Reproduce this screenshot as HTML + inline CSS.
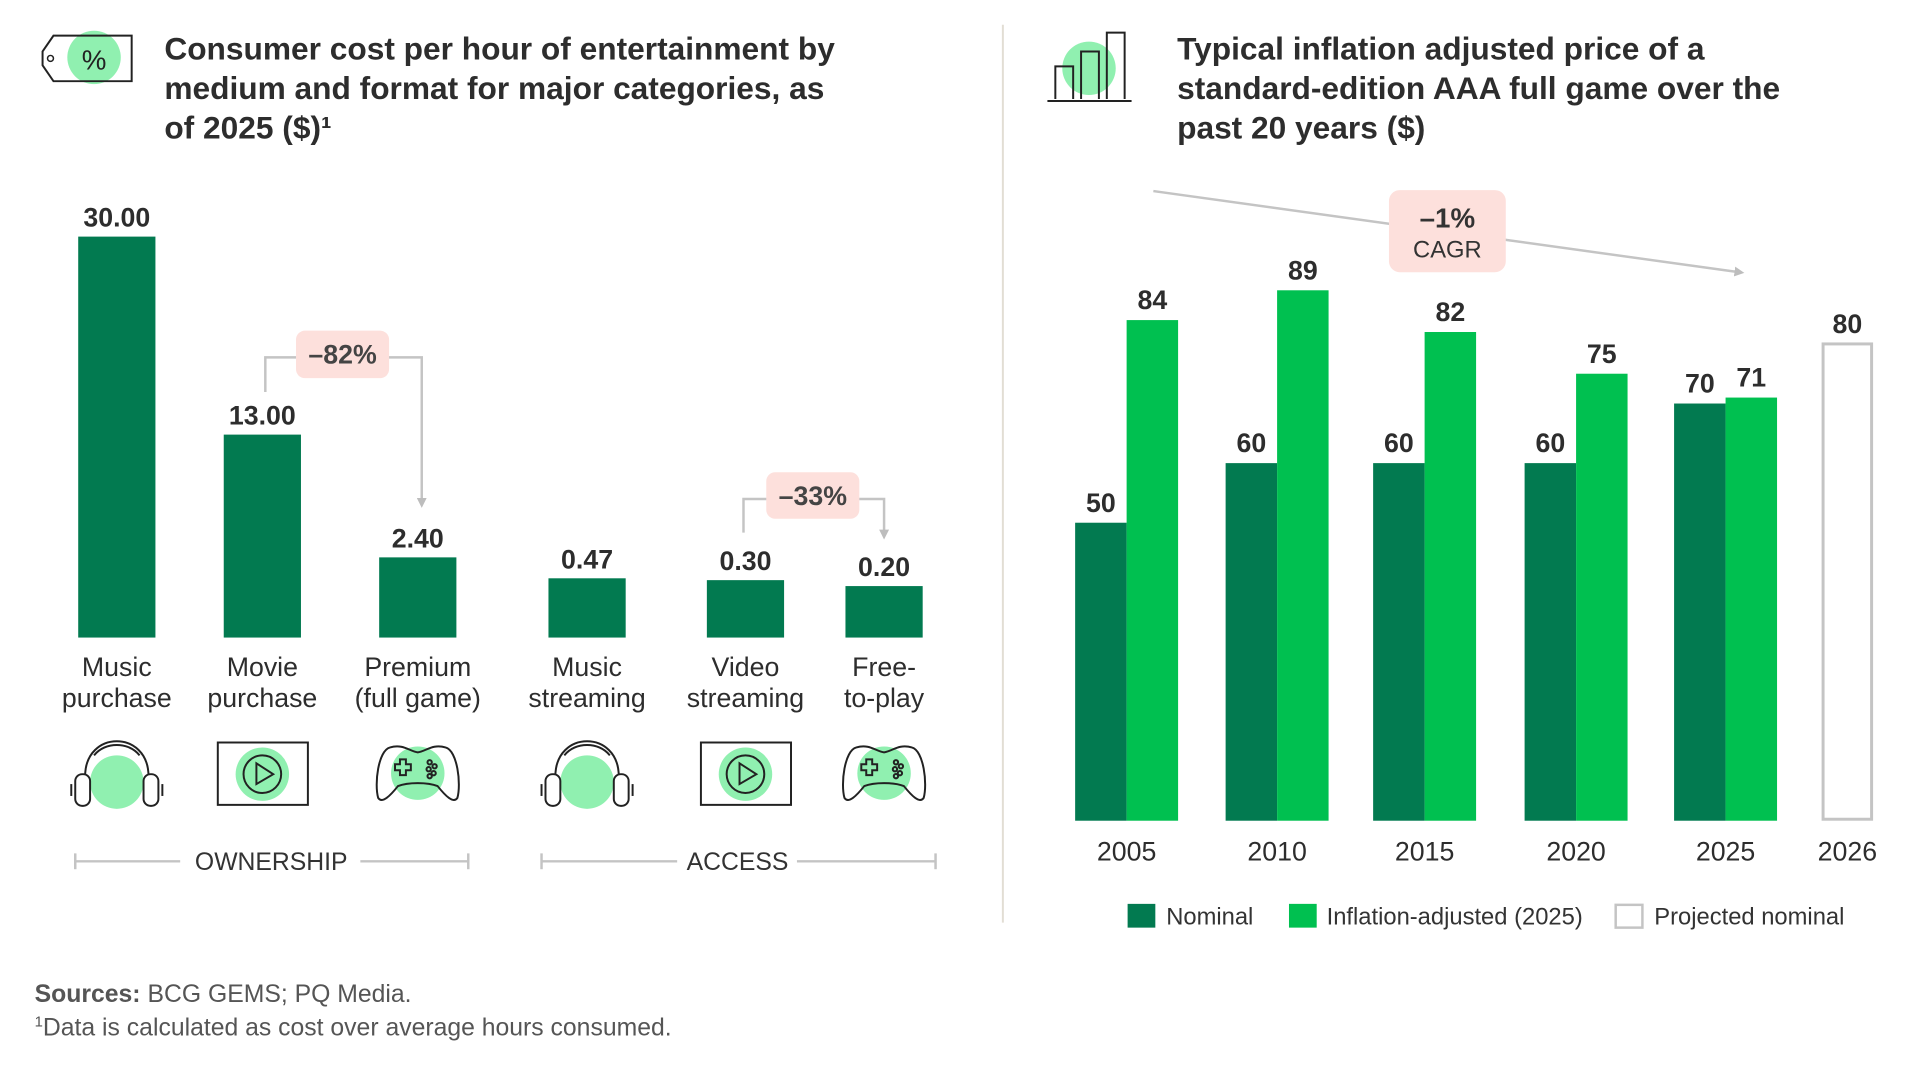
<!DOCTYPE html>
<html><head><meta charset="utf-8">
<style>
html,body{margin:0;padding:0;background:#fff;}
svg{display:block;font-family:"Liberation Sans",sans-serif;}
</style></head>
<body>
<svg id="chart" width="1930" height="1068" viewBox="0 0 1930 1068" xmlns="http://www.w3.org/2000/svg">
<defs>
<marker id="arrowG" markerWidth="10" markerHeight="10" refX="5" refY="5" orient="auto" markerUnits="userSpaceOnUse">
<path d="M0,0 L10,5 L0,10 z" fill="#bdbdbd"/></marker>
</defs>
<g transform="scale(0.99)">
<g>
<circle cx="95" cy="58" r="27" fill="#90f0b0"/>
<path d="M54,36 L133,36 L133,82 L54,82 L43,66 L43,52 Z" fill="none" stroke="#222" stroke-width="2"/>
<circle cx="51" cy="59" r="3" fill="none" stroke="#222" stroke-width="1.5"/>
<text x="95" y="70" font-size="28" text-anchor="middle" fill="#222">%</text>
</g>
<g font-size="32" font-weight="bold" fill="#2d2d2d">
<text x="166" y="60">Consumer cost per hour of entertainment by</text>
<text x="166" y="100">medium and format for major categories, as</text>
<text x="166" y="140">of 2025 ($)¹</text>
</g>
<g id="leftBars"></g>
<g>
<polyline points="268,396 268,361 426,361 426,508" fill="none" stroke="#c4c4c4" stroke-width="2.5" marker-end="url(#arrowG)"/>
<rect x="299" y="334" width="94" height="48" rx="9" fill="#fde0dc"/>
<text x="346" y="367" font-size="27" font-weight="bold" text-anchor="middle" fill="#444">–82%</text>
</g>
<g>
<polyline points="751,538 751,504 893,504 893,540" fill="none" stroke="#c4c4c4" stroke-width="2.5" marker-end="url(#arrowG)"/>
<rect x="774" y="477" width="94" height="47" rx="9" fill="#fde0dc"/>
<text x="821" y="510" font-size="27" font-weight="bold" text-anchor="middle" fill="#444">–33%</text>
</g>
<g id="icons"></g>
<g stroke="#c4c4c4" stroke-width="2.5">
<line x1="76" y1="870" x2="182" y2="870"/><line x1="364" y1="870" x2="473" y2="870"/>
<line x1="76" y1="862" x2="76" y2="878"/><line x1="473" y1="862" x2="473" y2="878"/>
</g>
<text x="274" y="879" font-size="25" text-anchor="middle" fill="#333">OWNERSHIP</text>
<g stroke="#c4c4c4" stroke-width="2.5">
<line x1="547" y1="870" x2="684" y2="870"/><line x1="805" y1="870" x2="945" y2="870"/>
<line x1="547" y1="862" x2="547" y2="878"/><line x1="945" y1="862" x2="945" y2="878"/>
</g>
<text x="745" y="879" font-size="25" text-anchor="middle" fill="#333">ACCESS</text>
<line x1="1013" y1="25" x2="1013" y2="932" stroke="#e2ded4" stroke-width="2"/>
<g fill="none" stroke="#222" stroke-width="2">
<ellipse cx="1100" cy="69" rx="27" ry="27" fill="#90f0b0" stroke="none"/>
<path d="M1066,100 L1066,67 L1084,67 L1084,100"/>
<path d="M1092,100 L1092,52 L1110,52 L1110,100"/>
<path d="M1118,100 L1118,33 L1136,33 L1136,100"/>
<line x1="1058" y1="102" x2="1143" y2="102"/>
</g>
<g font-size="32" font-weight="bold" fill="#2d2d2d">
<text x="1189" y="60">Typical inflation adjusted price of a</text>
<text x="1189" y="100">standard-edition AAA full game over the</text>
<text x="1189" y="140">past 20 years ($)</text>
</g>
<g>
<line x1="1165" y1="193" x2="1757" y2="275" stroke="#c4c4c4" stroke-width="2.5" marker-end="url(#arrowG)"/>
<rect x="1403" y="192" width="118" height="83" rx="11" fill="#fde0dc"/>
<text x="1462" y="230" font-size="28" font-weight="bold" text-anchor="middle" fill="#333">–1%</text>
<text x="1462" y="260" font-size="24" text-anchor="middle" fill="#333">CAGR</text>
</g>
<g id="rightBars"></g>
<g font-size="24" fill="#333">
<g><rect x="1139" y="913" width="28" height="24" fill="#027a50"/><text x="1178" y="934">Nominal</text></g>
<g><rect x="1302" y="913" width="28" height="24" fill="#00c050"/><text x="1340" y="934">Inflation-adjusted (2025)</text></g>
<g><rect x="1632" y="914" width="27" height="23" fill="#fff" stroke="#c4c4c4" stroke-width="2.5"/><text x="1671" y="934">Projected nominal</text></g>
</g>
<text x="35" y="1012" font-size="25" fill="#555"><tspan font-weight="bold">Sources:</tspan> BCG GEMS; PQ Media.</text>
<text x="35" y="1046" font-size="25" fill="#555"><tspan font-size="15" dy="-9">1</tspan><tspan dy="9">Data is calculated as cost over average hours consumed.</tspan></text>
</g>
</svg>
<script>
const leftCategories = [["Music","purchase"],["Movie","purchase"],["Premium","(full game)"],["Music","streaming"],["Video","streaming"],["Free-","to-play"]];
const leftValues = [30.00, 13.00, 2.40, 0.47, 0.30, 0.20];
const leftLabels = ["30.00","13.00","2.40","0.47","0.30","0.20"];
const leftIcons = ["headphones","screen","controller","headphones","screen","controller"];
const years = ["2005","2010","2015","2020","2025","2026"];
const nominal = [50, 60, 60, 60, 70, null];
const adjusted = [84, 89, 82, 75, 71, null];
const projected = [null, null, null, null, null, 80];

const NS = "http://www.w3.org/2000/svg";
function mk(tag, attrs, parent){const e=document.createElementNS(NS,tag);for(const k in attrs)e.setAttribute(k,attrs[k]);parent.appendChild(e);return e;}

const lBase = 644, lBarW = 78;
const lCenters = [118, 265, 422, 593, 753, 893];
const kDom = [0, 0.2, 0.3, 2.4, 13, 30];
const kRng = [0, 52, 58, 81, 205, 405];
function yLeft(v){
  for(let i=1;i<kDom.length;i++){ if(v<=kDom[i]){const t=(v-kDom[i-1])/(kDom[i]-kDom[i-1]);return lBase-(kRng[i-1]+t*(kRng[i]-kRng[i-1]));} }
  return lBase-kRng[kRng.length-1];
}
const lg = document.getElementById('leftBars');
leftValues.forEach((v,i)=>{
  const cx=lCenters[i], y=yLeft(v);
  const r=mk('rect',{x:cx-lBarW/2,y:y,width:lBarW,height:lBase-y,fill:'#027a50'},lg);
  
  
  const t=mk('text',{x:cx,y:y-10,'font-size':27,'font-weight':'bold','text-anchor':'middle',fill:'#2d2d2d'},lg);
  t.textContent=leftLabels[i];
  
  
  leftCategories[i].forEach((ln,j)=>{
    const c=mk('text',{x:cx,y:683+j*31,'font-size':27,'text-anchor':'middle',fill:'#2d2d2d'},lg);
    c.textContent=ln;
    
    
  });
});
const ig=document.getElementById('icons');
function icon(kind,cx,cy){
  const g=mk('g',{fill:'none',stroke:'#222','stroke-width':2},ig);
  
  
  if(kind==='headphones'){
    mk('circle',{cx:cx,cy:cy+8,r:27,fill:'#90f0b0',stroke:'none'},g);
    mk('path',{d:`M${cx-32},${cy+2} C${cx-32},${cy-45} ${cx+32},${cy-45} ${cx+32},${cy+2}`},g);
    mk('path',{d:`M${cx-23},${cy-19} C${cx-12},${cy-33} ${cx+12},${cy-33} ${cx+23},${cy-19}`},g);
    mk('rect',{x:cx-42,y:cy,width:15,height:32,rx:7,fill:'#fff'},g);
    mk('rect',{x:cx+27,y:cy,width:15,height:32,rx:7,fill:'#fff'},g);
    mk('line',{x1:cx-46,y1:cy+10,x2:cx-46,y2:cy+22},g);
    mk('line',{x1:cx+46,y1:cy+10,x2:cx+46,y2:cy+22},g);
  } else if(kind==='screen'){
    mk('rect',{x:cx-45,y:cy-32,width:91,height:63,fill:'#fff'},g);
    mk('circle',{cx:cx,cy:cy,r:27,fill:'#90f0b0',stroke:'none'},g);
    mk('circle',{cx:cx,cy:cy,r:19},g);
    mk('path',{d:`M${cx-6},${cy-11} L${cx+11},${cy} L${cx-6},${cy+10} Z`},g);
  } else {
    mk('circle',{cx:cx,cy:cy-1,r:27,fill:'#90f0b0',stroke:'none'},g);
    mk('path',{d:`M${cx-28},${cy-27} C${cx-15},${cy-31} ${cx-8},${cy-23} ${cx},${cy-22} C${cx+8},${cy-23} ${cx+15},${cy-31} ${cx+28},${cy-27} C${cx+40},${cy-24} ${cx+44},${cy+10} ${cx+40},${cy+24} C${cx+36},${cy+30} ${cx+28},${cy+22} ${cx+20},${cy+12} C${cx+10},${cy+8} ${cx-10},${cy+8} ${cx-20},${cy+12} C${cx-28},${cy+22} ${cx-36},${cy+30} ${cx-40},${cy+24} C${cx-44},${cy+10} ${cx-40},${cy-24} ${cx-28},${cy-27} Z`},g);
    mk('path',{d:`M${cx-23},${cy-10} h5 v-5 h6 v5 h5 v6 h-5 v5 h-6 v-5 h-5 Z`},g);
    [[12,-12],[17,-8],[11,-5],[16,-1],[12,2]].forEach(p=>mk('circle',{cx:cx+p[0],cy:cy+p[1],r:2.2},g));
  }
}
leftIcons.forEach((k,i)=>icon(k,lCenters[i],782));

const rBase = 829, pxPerUnit = 6.02, rBarW = 52;
const groupCenters = [1138, 1290, 1439, 1592, 1743, 1866];
function yRight(v){return rBase - v*pxPerUnit;}
const rg=document.getElementById('rightBars');
years.forEach((yr,i)=>{
  const cx=groupCenters[i];
  function bar(v,x,fill,name,stroke){
    const y=yRight(v);
    const a={x:x,y:y,width:rBarW,height:rBase-y,fill:fill};
    if(stroke){a.stroke=stroke;a['stroke-width']=3;a.x=x+1.5;a.width=rBarW-3;a.height=rBase-y-1.5;}
    const r=mk('rect',a,rg);
    
    
    const t=mk('text',{x:x+rBarW/2,y:y-11,'font-size':27,'font-weight':'bold','text-anchor':'middle',fill:'#2d2d2d'},rg);
    t.textContent=String(v);
    
    
  }
  if(nominal[i]!=null) bar(nominal[i],cx-rBarW,'#027a50','bar-nominal-'+yr);
  if(adjusted[i]!=null) bar(adjusted[i],cx,'#00c050','bar-adjusted-'+yr);
  if(projected[i]!=null) bar(projected[i],cx-rBarW/2,'#fff','bar-projected-'+yr,'#c4c4c4');
  const t=mk('text',{x:cx,y:869,'font-size':27,'text-anchor':'middle',fill:'#2d2d2d'},rg);
  t.textContent=yr;
  
  
});
</script>
</body></html>
